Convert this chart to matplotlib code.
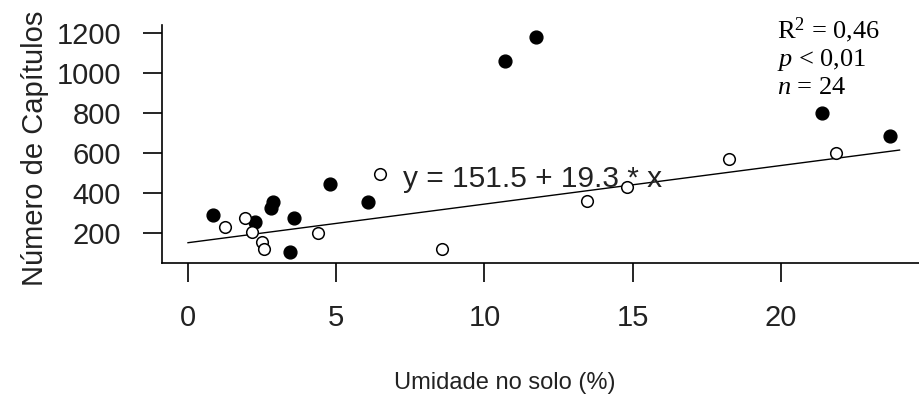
import matplotlib
matplotlib.use("Agg")
import numpy as np
import matplotlib.pyplot as plt

# soil moisture (%) vs number of capitula, two groups
filled_x = [0.85, 2.26, 2.80, 2.88, 3.44, 3.58, 4.79, 6.08, 10.69, 11.74, 21.39, 23.68]
filled_y = [290, 253, 323, 357, 107, 273, 443, 353, 1062, 1182, 802, 685]
open_x = [1.25, 1.92, 2.15, 2.49, 2.56, 4.40, 6.48, 8.58, 13.47, 14.82, 18.26, 21.84]
open_y = [228, 273, 207, 153, 120, 202, 495, 120, 362, 432, 568, 598]

# fitted line y = a + b * x
intercept = 151.5
slope = 19.3
fit_x = np.array([0, 24])

x_ticks = [0, 5, 10, 15, 20]
y_ticks = [200, 400, 600, 800, 1000, 1200]

plt.rcParams["font.family"] = ["Liberation Sans", "DejaVu Sans"]
plt.rcParams["mathtext.fontset"] = "custom"
plt.rcParams["mathtext.rm"] = "Liberation Serif"
plt.rcParams["mathtext.it"] = "Liberation Serif:italic"

fig = plt.figure(figsize=(9.2, 4.05), dpi=100)
ax = fig.add_axes([162 / 920, 1 - 263 / 405, 758 / 920, 238 / 405])

ax.scatter(filled_x, filled_y, s=85, color="black", zorder=3)
ax.scatter(open_x, open_y, s=70, facecolors="white", edgecolors="black",
           linewidths=1.1, zorder=3)
ax.plot(fit_x, intercept + slope * fit_x, color="black", lw=1.0, zorder=2)

ax.set_xlim(-0.877, 24.69)
ax.set_ylim(50, 1240)
ax.set_xticks(x_ticks)
ax.set_yticks(y_ticks)
ax.tick_params(length=13.5, width=1.2, pad=16, labelsize=21, colors="black",
               labelcolor="#222222")

for side in ["top", "right"]:
    ax.spines[side].set_visible(False)
for side in ["left", "bottom"]:
    ax.spines[side].set_linewidth(1.2)

fig.text(35 / 920, 1 - 148 / 405, "Número de Capítulos", rotation=90,
         ha="center", va="center", fontsize=21, color="#222222")
fig.text(505 / 920, 1 - 383 / 405, "Umidade no solo (%)", ha="center",
         va="center", fontsize=17, color="#222222")

ax.text(7.25, 470, "y = 151.5 + 19.3 * x", fontsize=21.5, color="#222222",
        va="center", ha="left")

stats = [r"R$^2$ = 0,46", r"$p$ < 0,01", r"$n$ = 24"]
for i, s in enumerate(stats):
    fig.text(777 / 920, 1 - (38 + 28 * i) / 405, s, fontsize=19,
             family="Liberation Serif", ha="left", va="baseline", color="black")

fig.savefig("out.png", dpi=100, facecolor="white")
